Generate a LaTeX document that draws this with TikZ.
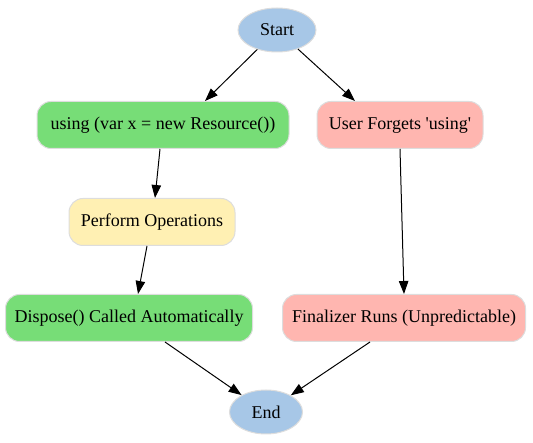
\documentclass[tikz,border=0pt]{standalone}
\usepackage{fontspec}
\setmainfont{Liberation Serif}
\usetikzlibrary{arrows.meta,shapes.geometric}
\definecolor{pgreen}{HTML}{77DD77}
\definecolor{pyellow}{HTML}{FFF0B3}
\definecolor{ppink}{HTML}{FFB6B0}
\definecolor{pblue}{HTML}{A7C7E7}
\definecolor{pborder}{HTML}{DDDDDD}
\tikzset{
  box/.style={draw=pborder, line width=1pt, rounded corners=14pt, minimum height=47pt, inner xsep=3pt, font=\fontsize{18}{21}\selectfont},
  oval/.style={ellipse, draw=pborder, line width=1pt, fill=pblue, minimum height=44pt, inner xsep=0pt, inner ysep=0pt, font=\fontsize{18}{21}\selectfont},
  arr/.style={-{Triangle[length=13pt,width=9.5pt]}, line width=1pt, black}
}
\begin{document}
\begin{tikzpicture}[x=1pt,y=-1pt]
\useasboundingbox (0,0) rectangle (533,443);
\node[oval, minimum width=78pt] (start) at (277,30) {Start};
\node[box, fill=pgreen, minimum width=252pt] (using) at (163,125) {using (var x = new Resource())};
\node[box, fill=ppink, minimum width=166pt] (forget) at (400,125) {User Forgets \textquotesingle using\textquotesingle};
\node[box, fill=pyellow, minimum width=166pt] (perform) at (152,222) {Perform Operations};
\node[box, fill=pgreen, minimum width=247pt] (dispose) at (129,318) {Dispose() Called Automatically};
\node[box, fill=ppink, minimum width=243pt] (final) at (404,318) {Finalizer Runs (Unpredictable)};
\node[oval, minimum width=73pt] (end) at (266,412) {End};
\draw[arr] (start) -- (using.north -| 205,0);
\draw[arr] (start) -- (forget.north -| 355,0);
\draw[arr] (using.south -| 160,0) -- (perform.north -| 155,0);
\draw[arr] (perform.south -| 147,0) -- (dispose.north -| 138,0);
\draw[arr] (forget.south -| 400,0) -- (final.north -| 404,0);
\draw[arr] (dispose.south -| 165,0) -- (end);
\draw[arr] (final.south -| 370,0) -- (end);
\end{tikzpicture}
\end{document}
